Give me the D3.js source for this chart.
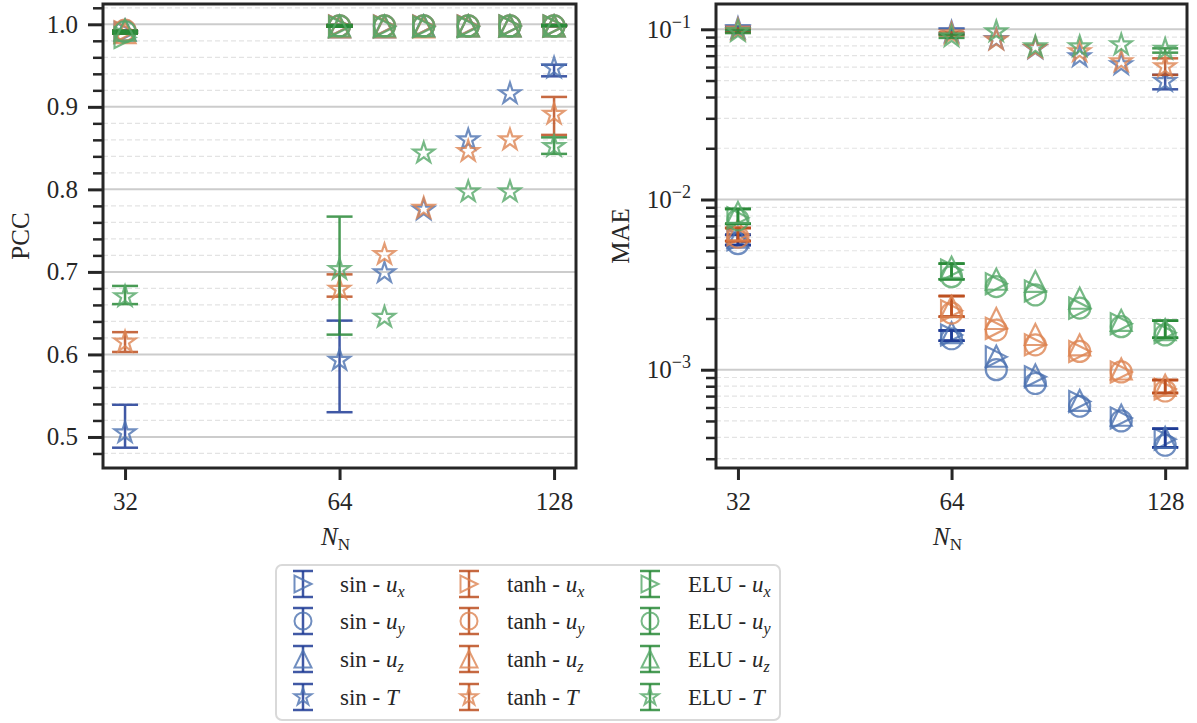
<!DOCTYPE html>
<html>
<head>
<meta charset="utf-8">
<script src="https://cdn.jsdelivr.net/npm/d3@7"></script>
<style>
  body { margin: 0; background: #fff; }
</style>
</head>
<body>
<script>
// network sizes on the x axis
var nValues = [32, 64, 74, 84, 97, 111, 128];
var xTicks = [32, 64, 128];
var pccTicks = [0.5, 0.6, 0.7, 0.8, 0.9, 1.0];
var maeTicks = [1e-3, 1e-2, 1e-1];
var methods = ["sin", "tanh", "ELU"];
var fields = ["ux", "uy", "uz", "T"];

// PCC values
var pccSinUx  = [0.990, 0.998, 0.998, 0.998, 0.998, 0.998, 0.998];
var pccSinUy  = [0.992, 0.998, 0.998, 0.998, 0.998, 0.998, 0.998];
var pccSinUz  = [0.993, 0.997, 0.997, 0.998, 0.998, 0.998, 0.998];
var pccSinT   = [0.505, 0.593, 0.699, 0.775, 0.860, 0.916, 0.947];
var pccTanhUx = [0.991, 0.998, 0.998, 0.998, 0.998, 0.998, 0.998];
var pccTanhUy = [0.993, 0.998, 0.998, 0.998, 0.998, 0.998, 0.998];
var pccTanhUz = [0.990, 0.997, 0.997, 0.997, 0.998, 0.998, 0.998];
var pccTanhT  = [0.615, 0.679, 0.721, 0.777, 0.846, 0.860, 0.891];
var pccEluUx  = [0.984, 0.997, 0.997, 0.997, 0.997, 0.998, 0.998];
var pccEluUy  = [0.991, 0.998, 0.998, 0.998, 0.998, 0.998, 0.998];
var pccEluUz  = [0.993, 0.998, 0.998, 0.998, 0.998, 0.998, 0.998];
var pccEluT   = [0.670, 0.703, 0.645, 0.844, 0.797, 0.797, 0.852];

// PCC error ranges (only the repeated runs at 32, 64, 128)
var pccSinTLo  = [0.487, 0.530, null, null, null, null, 0.937];
var pccSinTHi  = [0.539, 0.641, null, null, null, null, 0.951];
var pccTanhTLo = [0.603, 0.670, null, null, null, null, 0.866];
var pccTanhTHi = [0.627, 0.697, null, null, null, null, 0.912];
var pccEluTLo  = [0.661, 0.624, null, null, null, null, 0.843];
var pccEluTHi  = [0.683, 0.767, null, null, null, null, 0.863];
var pccULo     = [0.989, 0.997, null, null, null, null, 0.998];
var pccUHi     = [0.992, 0.999, null, null, null, null, 0.999];

// MAE values
var maeSinUx  = [0.0058, 0.00160, 0.00119, 0.00091, 0.00065, 0.00052, 0.00039];
var maeSinUy  = [0.0055, 0.00152, 0.00100, 0.00083, 0.00061, 0.00050, 0.00036];
var maeSinUz  = [0.0060, 0.00165, 0.00120, 0.00093, 0.00066, 0.00054, 0.00040];
var maeSinT   = [0.101, 0.096, 0.087, 0.077, 0.069, 0.062, 0.0493];
var maeTanhUx = [0.0062, 0.00222, 0.00175, 0.00140, 0.00128, 0.00097, 0.00077];
var maeTanhUy = [0.0060, 0.00215, 0.00171, 0.00140, 0.00128, 0.00097, 0.00075];
var maeTanhUz = [0.0066, 0.00235, 0.00200, 0.00161, 0.00140, 0.00101, 0.00081];
var maeTanhT  = [0.099, 0.094, 0.0865, 0.0773, 0.0739, 0.0645, 0.0603];
var maeEluUx  = [0.0078, 0.00385, 0.00320, 0.00290, 0.00230, 0.00186, 0.00165];
var maeEluUy  = [0.0076, 0.00352, 0.00308, 0.00275, 0.00230, 0.00179, 0.00160];
var maeEluUz  = [0.0084, 0.00400, 0.00340, 0.00330, 0.00263, 0.00195, 0.00172];
var maeEluT   = [0.097, 0.0905, 0.0968, 0.079, 0.079, 0.081, 0.0763];

// MAE error ranges
var maeSinULo  = [0.0054, 0.00148, null, null, null, null, 0.00035];
var maeSinUHi  = [0.0062, 0.00170, null, null, null, null, 0.00045];
var maeTanhULo = [0.0057, 0.00205, null, null, null, null, 0.00073];
var maeTanhUHi = [0.0068, 0.00271, null, null, null, null, 0.00087];
var maeEluULo  = [0.0072, 0.00340, null, null, null, null, 0.00154];
var maeEluUHi  = [0.0088, 0.00420, null, null, null, null, 0.00194];
var maeSinTLo  = [0.097, 0.094, null, null, null, null, 0.0444];
var maeSinTHi  = [0.104, 0.101, null, null, null, null, 0.054];
var maeTanhTLo = [0.096, 0.092, null, null, null, null, 0.054];
var maeTanhTHi = [0.101, 0.096, null, null, null, null, 0.0675];
var maeEluTLo  = [0.095, 0.089, null, null, null, null, 0.0729];
var maeEluTHi  = [0.099, 0.093, null, null, null, null, 0.0773];

var lightColors = ["#4c72b0", "#dd8452", "#55a868"];
var darkColors = ["#1f3c96", "#bd5020", "#2a8a38"];
var serif = "'Liberation Serif', 'DejaVu Serif', serif";

var pccData = [
  [[pccSinUx, pccULo, pccUHi], [pccSinUy, pccULo, pccUHi], [pccSinUz, pccULo, pccUHi], [pccSinT, pccSinTLo, pccSinTHi]],
  [[pccTanhUx, pccULo, pccUHi], [pccTanhUy, pccULo, pccUHi], [pccTanhUz, pccULo, pccUHi], [pccTanhT, pccTanhTLo, pccTanhTHi]],
  [[pccEluUx, pccULo, pccUHi], [pccEluUy, pccULo, pccUHi], [pccEluUz, pccULo, pccUHi], [pccEluT, pccEluTLo, pccEluTHi]]
];
var maeData = [
  [[maeSinUx, maeSinULo, maeSinUHi], [maeSinUy, maeSinULo, maeSinUHi], [maeSinUz, maeSinULo, maeSinUHi], [maeSinT, maeSinTLo, maeSinTHi]],
  [[maeTanhUx, maeTanhULo, maeTanhUHi], [maeTanhUy, maeTanhULo, maeTanhUHi], [maeTanhUz, maeTanhULo, maeTanhUHi], [maeTanhT, maeTanhTLo, maeTanhTHi]],
  [[maeEluUx, maeEluULo, maeEluUHi], [maeEluUy, maeEluULo, maeEluUHi], [maeEluUz, maeEluULo, maeEluUHi], [maeEluT, maeEluTLo, maeEluTHi]]
];

var W = 1197, H = 723;
var svg = d3.select("body").append("svg").attr("width", W).attr("height", H)
  .style("font-family", serif);

function markerPath(shape, s) {
  var h = s / 2;
  if (shape === "ux") return "M" + h + ",0L" + (-h) + "," + (-h) + "L" + (-h) + "," + h + "Z";
  if (shape === "uz") return "M0," + (-h) + "L" + (-h) + "," + h + "L" + h + "," + h + "Z";
  if (shape === "uy") return "M" + h + ",0A" + h + "," + h + " 0 1,1 " + (-h) + ",0A" + h + "," + h + " 0 1,1 " + h + ",0Z";
  var pts = [];
  for (var k = 0; k < 10; k++) {
    var r = k % 2 === 0 ? h : h * 0.382;
    var a = -Math.PI / 2 + k * Math.PI / 5;
    pts.push([r * Math.cos(a), r * Math.sin(a)]);
  }
  return "M" + pts.map(function (p) { return p[0].toFixed(2) + "," + p[1].toFixed(2); }).join("L") + "Z";
}

function drawPanel(x0, x1, y, data, isLog) {
  var top = 4, bottom = 468;
  var x = d3.scaleLog().base(2).domain([29.8, 137.4]).range([x0, x1]);
  var g = svg.append("g");

  // minor and major values
  var minor = [];
  if (isLog) {
    [-4, -3, -2, -1].forEach(function (e) {
      for (var m = 2; m <= 9; m++) {
        var v = m * Math.pow(10, e);
        if (v > y.domain()[0] && v < y.domain()[1]) minor.push(v);
      }
    });
  } else {
    for (var i = 24; i <= 51; i++) if (i % 5 !== 0) minor.push(i / 50);
  }
  var major = isLog ? maeTicks : pccTicks;

  g.selectAll(".minorgrid").data(minor).enter().append("line")
    .attr("x1", x0).attr("x2", x1)
    .attr("y1", function (d) { return y(d); }).attr("y2", function (d) { return y(d); })
    .attr("stroke", "#e3e3e3").attr("stroke-width", 1.2).attr("stroke-dasharray", "5,3");
  g.selectAll(".majorgrid").data(major).enter().append("line")
    .attr("x1", x0).attr("x2", x1)
    .attr("y1", function (d) { return y(d); }).attr("y2", function (d) { return y(d); })
    .attr("stroke", "#cccccc").attr("stroke-width", 2);

  // series
  data.forEach(function (mData, mi) {
    mData.forEach(function (sData, fi) {
      var vals = sData[0], lo = sData[1], hi = sData[2];
      var eb = g.append("g").attr("opacity", 0.85);
      nValues.forEach(function (n, k) {
        if (lo[k] == null) return;
        var cx = x(n);
        eb.append("line").attr("x1", cx).attr("x2", cx).attr("y1", y(lo[k])).attr("y2", y(hi[k]))
          .attr("stroke", darkColors[mi]).attr("stroke-width", 2.5);
        [lo[k], hi[k]].forEach(function (v) {
          eb.append("line").attr("x1", cx - 13).attr("x2", cx + 13).attr("y1", y(v)).attr("y2", y(v))
            .attr("stroke", darkColors[mi]).attr("stroke-width", 2.5);
        });
      });
      g.append("g").selectAll("path").data(vals).enter().append("path")
        .attr("d", markerPath(fields[fi], fi === 3 ? 22 : 21))
        .attr("transform", function (d, k) { return "translate(" + x(nValues[k]) + "," + y(d) + ")"; })
        .attr("fill", "none").attr("stroke", lightColors[mi]).attr("stroke-width", 2.2)
        .attr("stroke-linejoin", "miter").attr("opacity", 0.8);
    });
  });

  // axes
  var ya = g.append("g").attr("transform", "translate(" + x0 + ",0)")
    .call(d3.axisLeft(y).tickValues(major).tickSize(15).tickPadding(10)
      .tickFormat(isLog ? function () { return ""; } : d3.format(".1f")));
  var ym = g.append("g").attr("transform", "translate(" + x0 + ",0)")
    .call(d3.axisLeft(y).tickValues(minor).tickSize(10).tickFormat(""));
  var xa = g.append("g").attr("transform", "translate(0," + bottom + ")")
    .call(d3.axisBottom(x).tickValues(xTicks).tickSize(12).tickPadding(12).tickFormat(d3.format("d")));
  [ya, ym, xa].forEach(function (a) {
    a.attr("font-family", null).attr("font-size", null);
    a.select(".domain").remove();
    a.selectAll("line").attr("stroke", "#262626");
    a.selectAll("text").attr("font-size", 25).style("font-family", serif).attr("fill", "#262626");
  });
  ya.selectAll("line").attr("stroke-width", 3);
  ym.selectAll("line").attr("stroke-width", 2.5);
  xa.selectAll("line").attr("stroke-width", 3);

  if (isLog) {
    ya.selectAll("text").each(function (d) {
      var t = d3.select(this);
      t.append("tspan").text("10");
      t.append("tspan").attr("dy", -10).attr("font-size", 18).text("\u2212" + Math.round(-Math.log10(d)));
    });
  }

  g.append("rect").attr("x", x0).attr("y", top).attr("width", x1 - x0).attr("height", bottom - top)
    .attr("fill", "none").attr("stroke", "#262626").attr("stroke-width", 3);

  // x label
  var xl = g.append("text").attr("x", (x0 + x1) / 2 - 4).attr("y", 545)
    .attr("text-anchor", "middle").attr("font-size", 25).attr("fill", "#262626");
  xl.append("tspan").attr("font-style", "italic").text("N");
  xl.append("tspan").attr("font-size", 17).attr("dy", 5).text("N");
  return x;
}

var pccY = d3.scaleLinear().domain([0.4624, 1.0246]).range([468, 4]);
var maeY = d3.scaleLog().domain([0.0002646, 0.1408]).range([468, 4]);

drawPanel(103, 576, pccY, pccData, false);
drawPanel(716, 1187, maeY, maeData, true);

svg.append("text").attr("transform", "translate(29,236) rotate(-90)").attr("fill", "#262626")
  .attr("text-anchor", "middle").attr("font-size", 25).text("PCC");
svg.append("text").attr("transform", "translate(629,236) rotate(-90)").attr("fill", "#262626")
  .attr("text-anchor", "middle").attr("font-size", 25).text("MAE");

// legend
var legend = svg.append("g");
legend.append("rect").attr("x", 276).attr("y", 565).attr("width", 504).attr("height", 155)
  .attr("rx", 6).attr("fill", "#fff").attr("stroke", "#d9d9d9").attr("stroke-width", 2);
var handleX = [303, 469, 650];
var textX = [340, 507, 688];
var rowY = [584, 621, 659, 697];
var subs = ["x", "y", "z"];
methods.forEach(function (m, mi) {
  fields.forEach(function (f, fi) {
    var cx = handleX[mi], cy = rowY[fi];
    var h = legend.append("g");
    h.append("line").attr("x1", cx).attr("x2", cx).attr("y1", cy - 13).attr("y2", cy + 13)
      .attr("stroke", darkColors[mi]).attr("stroke-width", 2.5).attr("opacity", 0.85);
    [cy - 13, cy + 13].forEach(function (yy) {
      h.append("line").attr("x1", cx - 10).attr("x2", cx + 10).attr("y1", yy).attr("y2", yy)
        .attr("stroke", darkColors[mi]).attr("stroke-width", 2.5).attr("opacity", 0.85);
    });
    h.append("path").attr("d", markerPath(f, fi === 3 ? 18 : 17))
      .attr("transform", "translate(" + cx + "," + cy + ")")
      .attr("fill", "none").attr("stroke", lightColors[mi]).attr("stroke-width", 2).attr("opacity", 0.8);

    var t = legend.append("text").attr("x", textX[mi]).attr("y", cy + 8).attr("font-size", 23)
      .attr("fill", "#262626");
    t.append("tspan").text(m + " - ");
    if (fi < 3) {
      t.append("tspan").attr("font-style", "italic").text("u");
      t.append("tspan").attr("font-style", "italic").attr("font-size", 16).attr("dy", 5).text(subs[fi]);
    } else {
      t.append("tspan").attr("font-style", "italic").text("T");
    }
  });
});
</script>
</body>
</html>
